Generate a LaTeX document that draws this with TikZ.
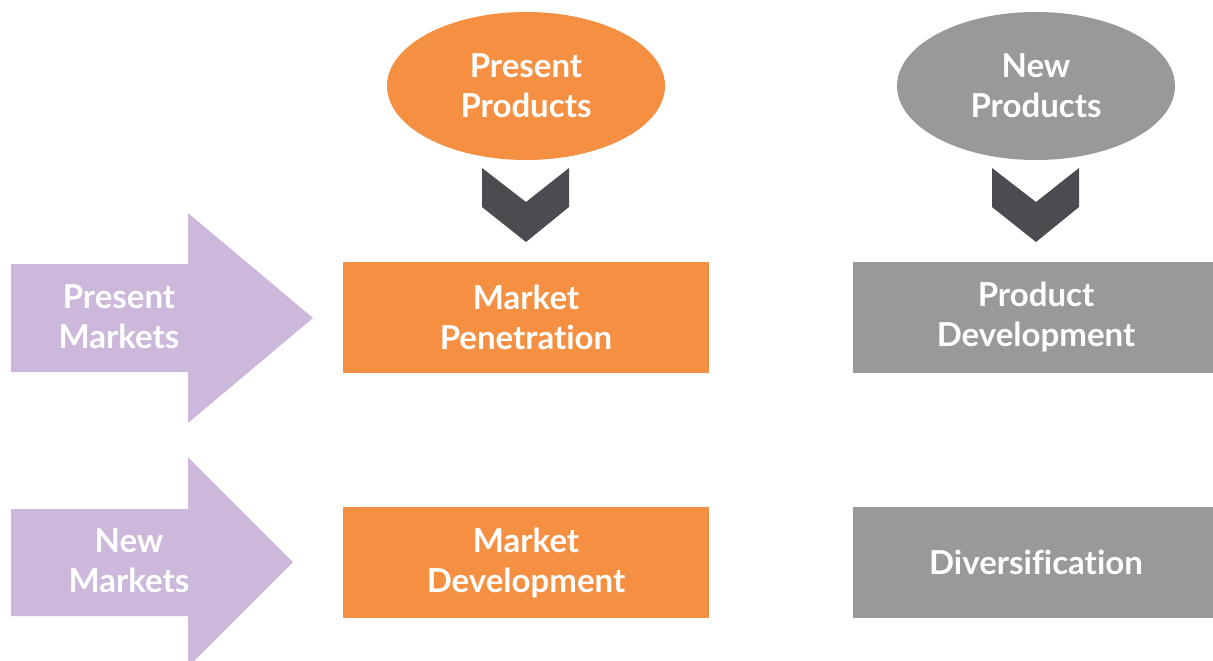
\documentclass[tikz,border=0pt]{standalone}
\usepackage{fontspec}
\setmainfont{Lato}[Ligatures={NoCommon}]
\usetikzlibrary{shapes.geometric}
\definecolor{orng}{HTML}{F58F41}
\definecolor{gry}{HTML}{98999B}
\definecolor{purp}{HTML}{CBB8DB}
\definecolor{dark}{HTML}{4B4C4F}
\tikzset{
  lbl/.style={text=white, font=\fontsize{33}{40}\selectfont\bfseries, align=center},
  boxo/.style={lbl, fill=orng, minimum width=366pt, minimum height=111pt, inner sep=0pt},
  boxg/.style={lbl, fill=gry, minimum width=366pt, minimum height=111pt, inner sep=0pt},
  ello/.style={lbl, ellipse, fill=orng, minimum width=278pt, minimum height=148pt, inner sep=0pt},
  ellg/.style={lbl, ellipse, fill=gry, minimum width=278pt, minimum height=148pt, inner sep=0pt},
  chev/.style={fill=dark},
  bigarrow/.style={fill=purp},
}
\begin{document}
\begin{tikzpicture}[x=1pt,y=-1pt]
\useasboundingbox (0,0) rectangle (1213,661);
\clip (0,0) rectangle (1213,661);
% market arrows
\fill[bigarrow] (11,264) -- (188,264) -- (188,213) -- (313,318) -- (188,423) -- (188,372) -- (11,372) -- cycle;
\fill[bigarrow] (11,509) -- (188,509) -- (188,457) -- (293,562) -- (188,667) -- (188,616) -- (11,616) -- cycle;
\node[lbl] (pm) at (119,317) {Present\\Markets};
\node[lbl] (nm) at (129,561) {New\\Markets};
% product ellipses
\node[ello] (pp) at (526,86) {Present\\Products};
\node[ellg] (np) at (1036,86) {New\\Products};
% chevrons
\coordinate (c1) at (526,168);
\coordinate (c2) at (1036,168);
\foreach \c in {c1,c2}{
  \fill[chev] (\c) ++(-44,0) -- ++(44,34) -- ++(43,-34) -- ++(0,39) -- ++(-43,35) -- ++(-44,-35) -- cycle;
}
% boxes
\node[boxo] (mp) at (526,317.5) {Market\\Penetration};
\node[boxg] (pd) at (1036,317.5) {Product\\Development};
\node[boxo] (md) at (526,562.5) {Market\\Development};
\node[boxg] (dv) at (1036,562.5) {Diversification};
\end{tikzpicture}
\end{document}
